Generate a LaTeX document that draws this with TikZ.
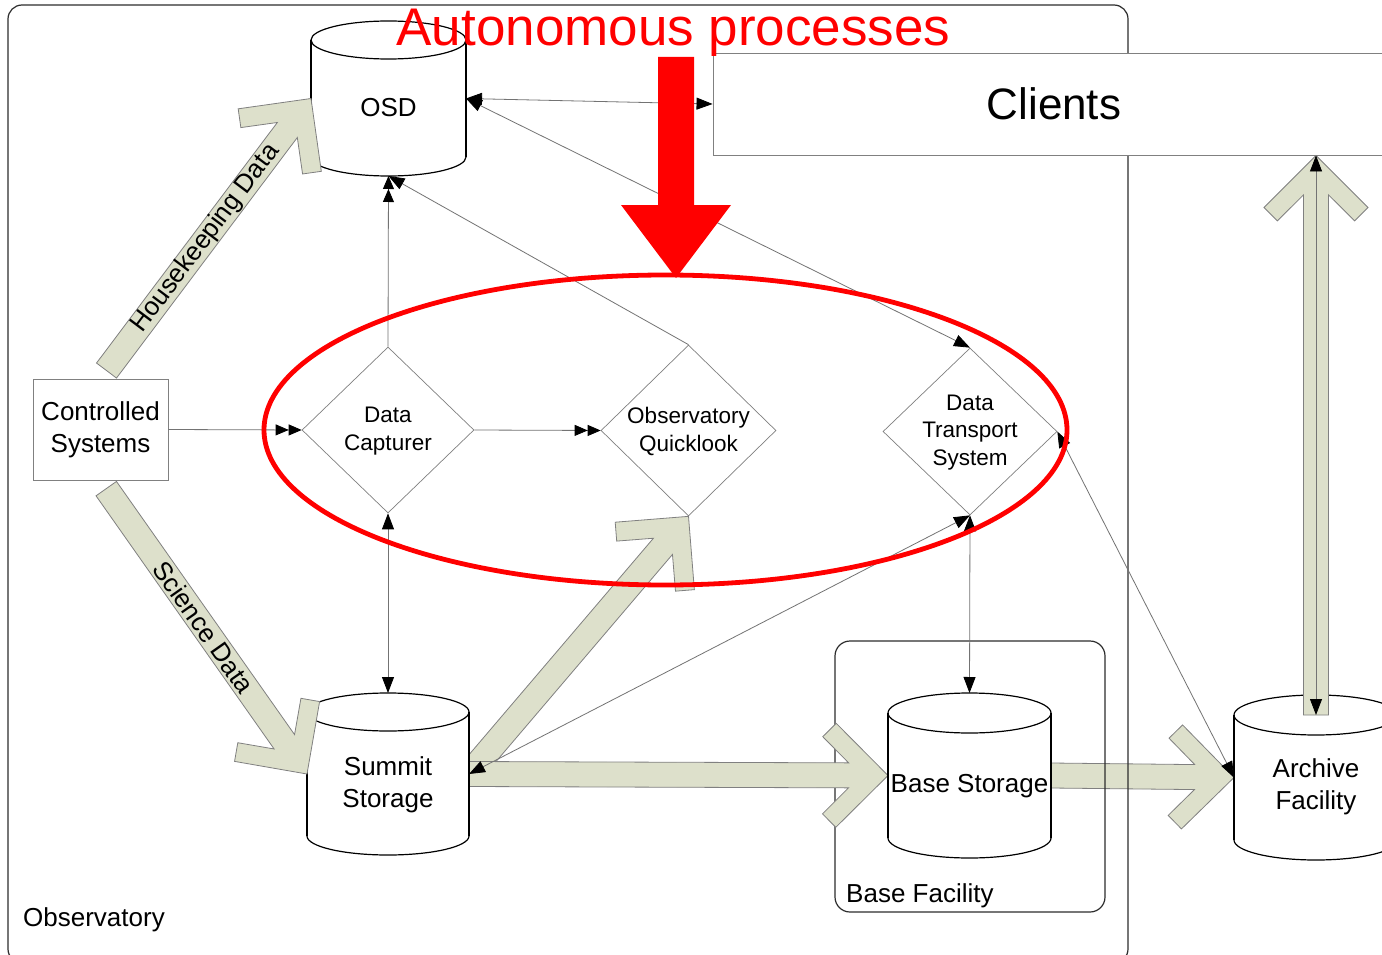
\documentclass[tikz,border=0pt]{standalone}
\usepackage{fontspec}
\setmainfont{Liberation Sans}
\usetikzlibrary{calc,arrows.meta,shapes.geometric}

\definecolor{sage}{RGB}{221,224,203}
\definecolor{arrowgray}{RGB}{128,128,128}
\definecolor{linegray}{RGB}{115,115,115}
\definecolor{boxgray}{RGB}{128,128,128}
\definecolor{framecol}{RGB}{45,45,45}
\definecolor{hotred}{RGB}{255,0,0}

\newcommand\fsnormal{\fontsize{26}{32}\selectfont}
\newcommand\fsproc{\fontsize{22.5}{27.5}\selectfont}
\newcommand\fsclients{\fontsize{44}{50}\selectfont}
\newcommand\fstitle{\fontsize{53}{60}\selectfont}

% wide chevron-headed flow arrow from #1 (tail) to #2 (tip)
\newcommand\chevronarrow[2]{%
  \filldraw[blockarrow] (#2)
    -- ($(#2)!52pt!(#1)!52pt!90:(#2)$)
    -- ($(#2)!65.4pt!(#1)!38.6pt!90:(#2)$)
    -- ($(#2)!39.4pt!(#1)!12.5pt!90:(#2)$)
    -- ($(#1)!12.5pt!90:(#2)$)
    -- ($(#1)!12.5pt!-90:(#2)$)
    -- ($(#2)!39.4pt!(#1)!12.5pt!-90:(#2)$)
    -- ($(#2)!65.4pt!(#1)!38.6pt!-90:(#2)$)
    -- ($(#2)!52pt!(#1)!52pt!-90:(#2)$)
    -- cycle;}

% body of a storage cylinder: name, cx, top, bottom, half width, ry
\newcommand\storagebody[6]{%
  \node[inner sep=0, outer sep=0, minimum width={2*#5}, minimum height={#4-#3}] (#1) at (#2,{(#3+#4)/2}) {};
  \coordinate (#1-top) at (#2,#3-#6);
  \coordinate (#1-bottom) at (#2,#4+#6);}

% outline of a storage cylinder: cx, top, bottom, half width, ry
\newcommand\storagecyl[5]{%
  \fill[white] (#1,#2) ellipse [x radius=#4, y radius=#5];
  \fill[white] (#1-#4,#2) rectangle (#1+#4,#3);
  \fill[white] (#1,#3) ellipse [x radius=#4, y radius=#5];
  \draw[cylline] (#1-#4,#2) -- (#1-#4,#3);
  \draw[cylline] (#1+#4,#2) -- (#1+#4,#3);
  \begin{scope}
    \clip (#1-#4-3,#3) rectangle (#1+#4+3,#3+#5+3);
    \draw[cylline] (#1,#3) ellipse [x radius=#4, y radius=#5];
  \end{scope}
  \draw[cylline] (#1,#2) ellipse [x radius=#4, y radius=#5];}

\begin{document}
\begin{tikzpicture}[x=1pt, y=-1pt,
  blockarrow/.style={fill=sage, draw=arrowgray, line width=0.8pt, line join=miter},
  frameline/.style={draw=framecol, line width=1.2pt},
  cylline/.style={draw=black, line width=1.2pt},
  ctrlbox/.style={draw=boxgray, fill=white, line width=0.9pt, inner sep=0,
    minimum width=135, minimum height=101, align=center, font=\fsnormal},
  procnode/.style={diamond, draw=boxgray, fill=white, line width=0.7pt, inner sep=0},
  proctext/.style={align=center, font=\fsproc},
  storelabel/.style={align=center, font=\fsnormal},
  clientsbox/.style={draw=boxgray, fill=white, line width=0.9pt, inner sep=0,
    minimum width=682, minimum height=102, font=\fsclients},
  thinline/.style={draw=linegray, line width=0.8pt},
  arrowend/.style={arrows={-Triangle[length=16pt,width=12pt,color=black]}},
  arrowboth/.style={arrows={Triangle[length=16pt,width=12pt,color=black]-Triangle[length=16pt,width=12pt,color=black]}},
  arrowdbl/.style={arrows={-Triangle[length=13pt,width=11pt,color=black,sep=0pt]Triangle[length=13pt,width=11pt,color=black]}}
]
\useasboundingbox (0,0) rectangle (1382,955);
\clip (0,0) rectangle (1382,955);
\fill[white] (0,0) rectangle (1382,955);

% storage bodies
\storagebody{osd}{388.5}{40}{157}{77.5}{19}
\storagebody{summit}{388}{712}{836}{81}{19}
\storagebody{base}{969.5}{713}{838}{81.5}{20}
\storagebody{archive}{1316}{715}{840}{82}{20}

% processes
\node[ctrlbox] (ctrl) at (100.5,429.5) {Controlled\\Systems};
\node[procnode, minimum width=172, minimum height=166] (dc) at (388,430) {};
\node[procnode, minimum width=175, minimum height=171] (ql) at (688.5,430.5) {};
\node[procnode, minimum width=174, minimum height=167] (dts) at (970,431.5) {};
\node[proctext] (dc-text) at ($(dc.center)+(0,1)$) {Data\\Capturer};
\node[proctext] (ql-text) at ($(ql.center)+(0,1)$) {Observatory\\Quicklook};
\node[proctext] (dts-text) at ($(dts.center)+(0,1)$) {Data\\Transport\\System};

% flow out to the archive runs beneath the facility frames
\chevronarrow{base.east}{archive.west}

% facility frames
\draw[frameline, rounded corners=14] (8,5) rectangle (1128,963);
\draw[frameline, rounded corners=15] (835,641) rectangle (1105,912);
\node[anchor=base west, font=\fsnormal, inner sep=0] (obs-label) at (23,926) {Observatory};
\node[anchor=base west, font=\fsnormal, inner sep=0] (basefac-label) at (846,902) {Base Facility};

% summit flows
\chevronarrow{summit.east}{ql.south}
\chevronarrow{summit.east}{base.west}

% storage cylinders
\storagecyl{388.5}{40}{157}{77.5}{19}
\storagecyl{388}{712}{836}{81}{19}
\storagecyl{969.5}{713}{838}{81.5}{20}
\storagecyl{1316}{715}{840}{82}{20}
\node[storelabel] (osd-text) at ($(osd.center)+(0,9)$) {OSD};
\node[storelabel] (summit-text) at ($(summit.center)+(0,11)$) {Summit\\Storage};
\node[storelabel] (base-text) at ($(base.center)+(0,11)$) {Base Storage};
\node[storelabel] (archive-text) at ($(archive.center)+(0,9)$) {Archive\\Facility};

% data from the controlled systems
\coordinate (hk-tail) at ($(ctrl.north)!10pt!(osd.west)$);
\coordinate (sd-tail) at ($(ctrl.south)!10pt!(summit.west)$);
\chevronarrow{hk-tail}{osd.west}
\chevronarrow{sd-tail}{summit.west}
\path (ctrl.north) -- (osd.west) node[midway, sloped, font=\fsnormal] (hk-label) {Housekeeping Data};
\path (ctrl.south) -- (summit.west) node[midway, sloped, font=\fsnormal] (sd-label) {Science Data};

% clients
\node[clientsbox] (clients) at (1054,104) {Clients};
\coordinate (clients-in) at (clients.south -| archive.north);
\chevronarrow{archive.north}{clients-in}

% control and data links
\draw[thinline, arrowdbl] (ctrl.east) -- (dc.west);
\draw[thinline, arrowdbl] (dc.east) -- (ql.west);
\draw[thinline, arrowdbl] (dc.north) -- (osd-bottom);
\draw[thinline, arrowend] (ql.north) -- (osd-bottom);
\draw[thinline, arrowboth] (osd.east) -- (clients.west);
\draw[thinline, arrowboth] (osd.east) -- (dts.north);
\draw[thinline, arrowboth] (dc.south) -- (summit-top);
\draw[thinline, arrowboth] (summit.east) -- (dts.south);
\draw[thinline, arrowboth] (dts.south) -- (base-top);
\draw[thinline, arrowboth] (dts.east) -- (archive.west);
\draw[thinline, arrowboth] (archive.north) -- (clients-in);

% autonomous processes highlight
\draw[hotred, line width=4.8pt] (665.5,430) ellipse [x radius=401.5, y radius=155];
\fill[hotred] (658,57) -- (694,57) -- (694,205) -- (731,205) -- (676,278) -- (621,205) -- (658,205) -- cycle;
\node[anchor=base, font=\fstitle, text=hotred, inner sep=0] (title) at (673.5,45.5) {Autonomous processes};
\end{tikzpicture}
\end{document}
